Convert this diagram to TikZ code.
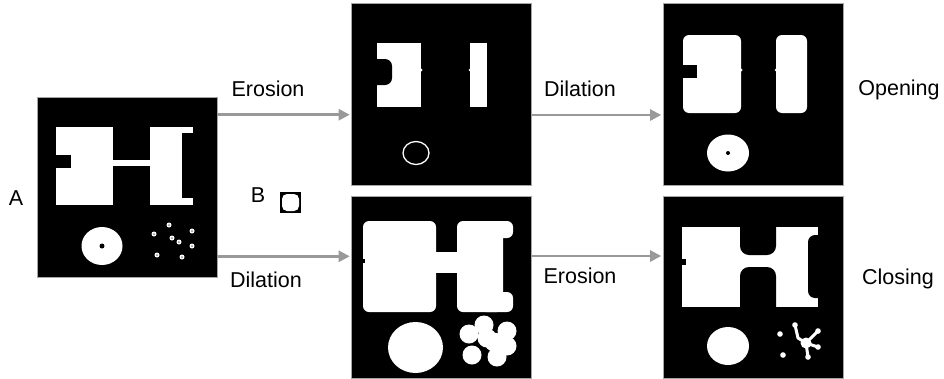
\documentclass[tikz,border=0pt]{standalone}
\usepackage{fontspec}
\setmainfont{Liberation Sans}
\usetikzlibrary{arrows.meta}

\tikzset{
  img/.style={draw=black!35, line width=0.6pt, fill=black, inner sep=0pt, minimum width=180pt, minimum height=182pt},
  op/.style={font=\fontsize{21.5}{24}\selectfont, anchor=base, inner sep=0pt},
  flow/.style={draw=black!40, line width=2.5pt, shorten >=1.5pt, -{Triangle[length=11pt,width=11pt]}},
  fg/.style={fill=white},
  bg/.style={fill=black},
}

\begin{document}
\begin{tikzpicture}[x=1pt, y=-1pt]
  \useasboundingbox (0,0) rectangle (944,378);

  % binary images
  \node[img, minimum height=180pt] (A) at (127,187) {};
  \node[img] (TM) at (441.5,94) {};
  \node[img] (TR) at (753,94) {};
  \node[img] (BM) at (441.5,287.5) {};
  \node[img] (BR) at (753,287.5) {};

  % structuring element
  \node[fill=black, inner sep=0pt, minimum size=21pt] (Bse) at (290.5,202.5) {};
  \fill[fg, rounded corners=5pt] (282,194) rectangle (299,211);

  % original set A
  \fill[fg] (56,127) rectangle (113,205);
  \fill[bg] (56,155) rectangle (71,168);
  \fill[fg] (113,160) rectangle (150,166);
  \fill[fg] (150,127) rectangle (182,205);
  \fill[fg] (182,127) rectangle (193,133);
  \fill[fg] (182,198) rectangle (193,205);
  \fill[fg] (102,246) ellipse [x radius=20.5, y radius=19];
  \fill[bg] (102,246) circle [radius=2.5];
  \foreach \p in {(169,225),(192,231),(154,234),(172,238),(179,242),(192,246),(157,255),(182,257)} {
    \fill[fg] \p circle [radius=2.5];
    \fill[black!45] \p circle [radius=1];
  }

  % erosion
  \fill[fg] (377,43) rectangle (421,107);
  \fill[bg, rounded corners=7pt] (368,59) rectangle (392,85);
  \fill[fg] (470,43) rectangle (487,107);
  \fill[fg] (421,70) circle [radius=1.5];
  \fill[fg] (470,70) circle [radius=1.5];
  \draw[white, line width=1.3pt] (416,153) ellipse [x radius=13, y radius=11.5];

  % opening
  \fill[fg, rounded corners=6pt] (683,35) rectangle (741,113);
  \fill[bg] (680,65) rectangle (697,78);
  \fill[fg, rounded corners=6pt] (776,35) rectangle (807,113);
  \fill[fg] (741,70) circle [radius=1.5];
  \fill[fg] (776,70) circle [radius=1.5];
  \fill[fg] (728,153) ellipse [x radius=21, y radius=18.5];
  \fill[bg] (728,153) circle [radius=2];

  % dilation
  \fill[fg, rounded corners=6pt] (363,221) rectangle (436,312);
  \fill[fg] (430,252) rectangle (463,273);
  \fill[fg, rounded corners=6pt] (457,221) rectangle (503,312);
  \fill[fg, rounded corners=6pt] (480,221) rectangle (513,238);
  \fill[fg, rounded corners=6pt] (480,292) rectangle (513,312);
  \fill[bg] (362,259) rectangle (364.5,263);
  \fill[fg] (415.5,347.5) ellipse [x radius=27.5, y radius=25.5];
  \foreach \p in {(484,325),(507,331),(469,334),(487,338),(494,342),(507,346),(472,355),(497,357)}
    \fill[fg] \p circle [radius=9.5];

  % closing
  \fill[fg] (682,227) rectangle (818,307);
  \fill[bg, rounded corners=9pt] (740,200) rectangle (776,255);
  \fill[bg, rounded corners=9pt] (740,267) rectangle (776,330);
  \fill[bg, rounded corners=7pt] (808,235) rectangle (835,298);
  \fill[bg] (682,259) rectangle (686,265);
  \fill[fg] (728,346) ellipse [x radius=21, y radius=19];
  \fill[fg] (780,334) circle [radius=2.8];
  \fill[fg] (783,355) circle [radius=2.8];
  \draw[white, line width=3pt, line cap=round]
    (795,325) -- (798,338) -- (806,343) -- (818,331)
    (806,343) -- (818,347)
    (806,343) -- (808,357);
  \foreach \p in {(795,325),(818,331),(818,347),(808,357)}
    \fill[fg] \p circle [radius=2.8];
  \fill[fg] (806,343) circle [radius=5.5];

  % labels
  \node[op] (lA) at (16,205) {A};
  \node[op] (lB) at (258,202) {B};
  \node[op] (ero1) at (268,96) {Erosion};
  \node[op] (dil1) at (266,287) {Dilation};
  \node[op] (dil2) at (580,96) {Dilation};
  \node[op] (ero2) at (580,283) {Erosion};
  \node[op] (open) at (899,95) {Opening};
  \node[op] (close) at (898,284) {Closing};

  % arrows
  \coordinate (eA) at ([yshift=-18pt]A.north east);
  \coordinate (sA) at ([yshift=21pt]A.south east);
  \draw[flow] (eA) -- (eA -| TM.west);
  \draw[flow] (sA) -- (sA -| BM.west);
  \draw[flow] ([yshift=-21pt]TM.east) -- ([yshift=-21pt]TR.west);
  \draw[flow] ([yshift=31.5pt]BM.east) -- ([yshift=31.5pt]BR.west);
\end{tikzpicture}
\end{document}
